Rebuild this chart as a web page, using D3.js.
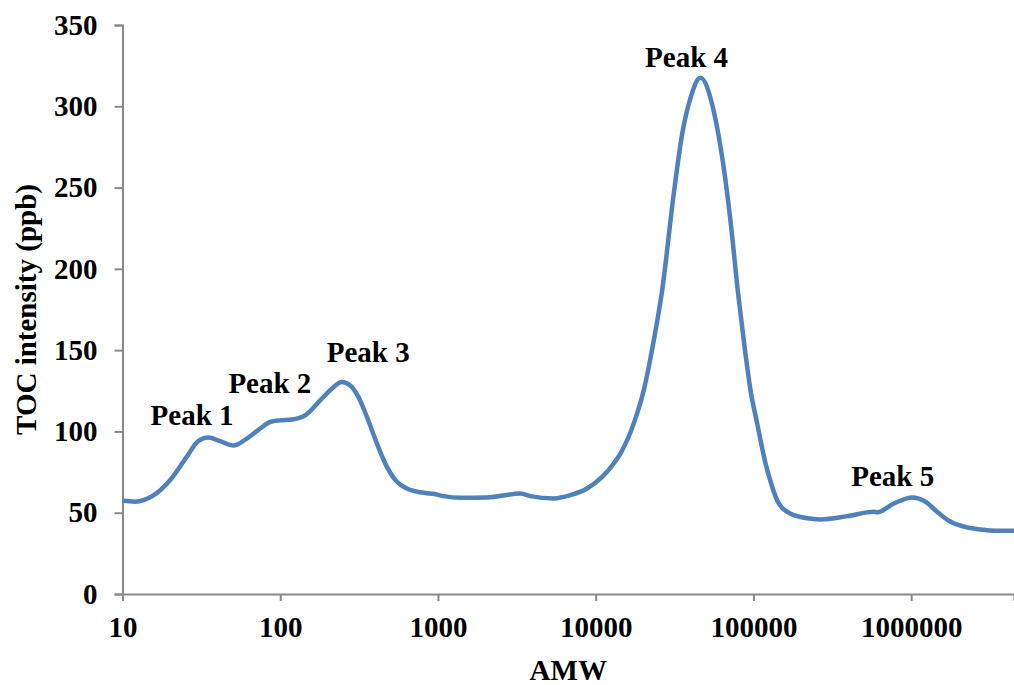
<!DOCTYPE html>
<html lang="en">
<head>
    <meta charset="UTF-8">
    <title>TOC intensity vs AMW</title>
    <script src="https://d3js.org/d3.v7.min.js"></script>
    <style>
        body { margin: 0; background: #fff; }
        text { font-family: "Liberation Serif", "Times New Roman", serif; font-weight: bold; }
    </style>
</head>
<body>
    <div id="chart"></div>
    <script>
        // AMW (x, log scale) and TOC intensity in ppb (y)
        const amw = [10, 12, 15.7, 20, 25.5, 30.2, 35, 41.6, 50.5, 61.4, 74.5, 86.2, 99.8, 118.5, 143.9,
            179.2, 212.5, 245.9, 277.7, 313.6, 354.5, 410.6, 474.8, 549.7, 635.6, 772, 893, 937, 1086,
            1386, 2048, 3329, 3854, 5420, 6910, 8813, 10990, 12710, 14350, 17420, 20170, 23350, 26380,
            31250, 35320, 39880, 46150, 56060, 64890, 71560, 79830, 86860, 95880, 105700,
            119400, 130000, 141500, 152000, 163900, 180400, 266600, 393900, 580600, 610300, 778000, 1018000,
            1206000, 1466000, 1781000, 2274000, 2763000, 3357000, 4489000];
        const toc = [57.3, 56.8, 60.6, 70, 84.3, 94.1, 96.2, 94, 91.3, 95.6, 101.7, 105.8, 106.8, 107.3, 109.9,
            119.1, 126.3, 130.4, 128.3, 121.1, 108.9, 92.5, 78.2, 69, 64.9, 62.6, 61.8, 61.6, 60.2,
            59.2, 59.4, 61.8, 60.2, 58.8, 60.8, 64.9, 72, 79, 86.4, 104.8, 125.3, 156, 186.7,
            246, 282.8, 305, 317.6, 297, 262, 229.6, 185.6, 156, 125.3, 104.8,
            80.2, 67.5, 57.5, 53, 50.5, 48.5, 45.9, 47.9, 50.6, 50.3, 55.7, 59.4,
            57.3, 50.5, 44.4, 40.9, 39.7, 38.9, 38.9];

        const xTicks = [10, 100, 1000, 10000, 100000, 1000000];
        const yTicks = [0, 50, 100, 150, 200, 250, 300, 350];

        const peakNames = ["Peak 1", "Peak 2", "Peak 3", "Peak 4", "Peak 5"];
        const peakX = [27.6, 86, 361, 37700, 764000];
        const peakY = [103.8, 123.4, 143, 324, 66.3];

        const width = 1014, height = 685;
        const margin = { top: 25, right: 0, bottom: 91, left: 122.5 };
        const fontSize = "29px";

        const svg = d3.select("#chart").append("svg")
            .attr("width", width)
            .attr("height", height);

        const x = d3.scaleLog()
            .domain([10, 4489000])
            .range([margin.left, width - margin.right]);

        const y = d3.scaleLinear()
            .domain([0, 350])
            .range([height - margin.bottom, margin.top]);

        const axisColor = "#898989";

        // x axis
        const gx = svg.append("g")
            .attr("transform", `translate(0,${height - margin.bottom})`)
            .call(d3.axisBottom(x).tickValues(xTicks).tickFormat(d3.format("d")).tickSize(7).tickPadding(15));
        // y axis
        const gy = svg.append("g")
            .attr("transform", `translate(${margin.left},0)`)
            .call(d3.axisLeft(y).tickValues(yTicks).tickSize(8).tickPadding(17));

        [gx, gy].forEach(g => {
            g.select(".domain").attr("stroke", axisColor).attr("stroke-width", 2);
            g.selectAll(".tick line").attr("stroke", axisColor).attr("stroke-width", 2);
            g.selectAll(".tick text")
                .attr("fill", "#000")
                .attr("font-size", fontSize)
                .style("font-family", "'Liberation Serif', 'Times New Roman', serif")
                .style("font-weight", "bold");
        });

        // axis titles
        svg.append("text")
            .attr("x", (margin.left + width) / 2)
            .attr("y", 680)
            .attr("text-anchor", "middle")
            .attr("font-size", fontSize)
            .text("AMW");

        svg.append("text")
            .attr("transform", `translate(36,${y(175)}) rotate(-90)`)
            .attr("text-anchor", "middle")
            .attr("font-size", fontSize)
            .text("TOC intensity (ppb)");

        // curve
        const data = amw.map((d, i) => ({ amw: d, toc: toc[i] }));
        const line = d3.line()
            .x(d => x(d.amw))
            .y(d => y(d.toc))
            .curve(d3.curveMonotoneX);

        svg.append("path")
            .datum(data)
            .attr("d", line)
            .attr("fill", "none")
            .attr("stroke", "#4F81BD")
            .attr("stroke-width", 4.5)
            .attr("stroke-linejoin", "round");

        // peak labels
        svg.selectAll(".peak")
            .data(peakNames)
            .join("text")
            .attr("class", "peak")
            .attr("x", (d, i) => x(peakX[i]))
            .attr("y", (d, i) => y(peakY[i]))
            .attr("text-anchor", "middle")
            .attr("font-size", fontSize)
            .text(d => d);
    </script>
</body>
</html>
